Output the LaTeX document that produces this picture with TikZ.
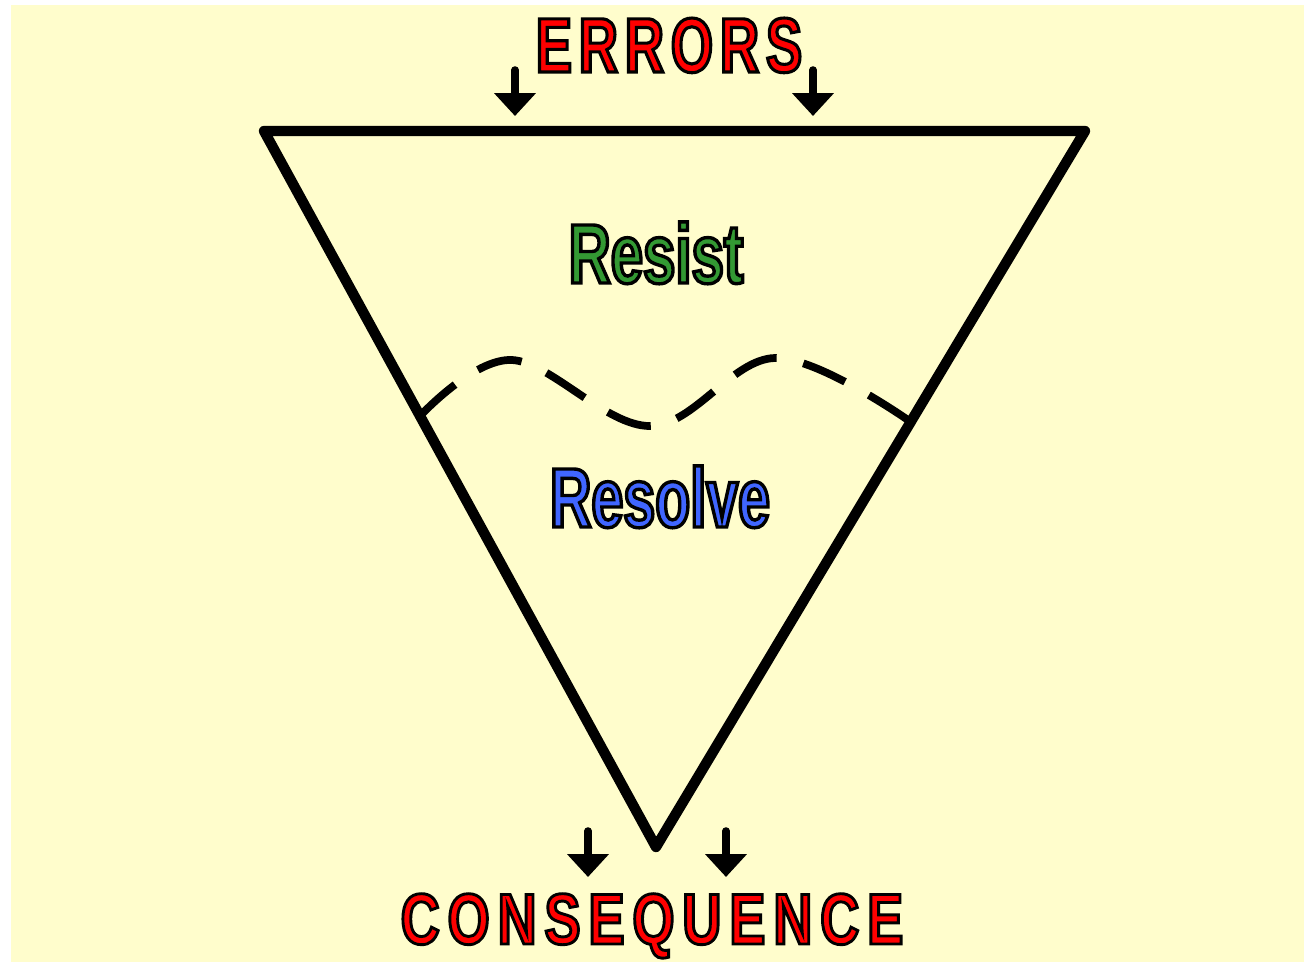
\documentclass[tikz,border=0pt]{standalone}
\usepackage{fontspec}
\setmainfont{Liberation Sans}
\newfontfamily\errfont{Liberation Sans Bold}[FakeStretch=0.70,LetterSpace=9,FakeBold=4]
\newfontfamily\consfont{Liberation Sans Bold}[FakeStretch=0.75,LetterSpace=11,FakeBold=4]
\newfontfamily\resistfont{Liberation Sans Bold}[FakeStretch=0.69,FakeBold=4]
\newfontfamily\resolvefont{Liberation Sans Bold}[FakeStretch=0.68,FakeBold=4]
\usepackage{tkz-euclide}
\usetikzlibrary{arrows.meta}
\definecolor{bgyellow}{RGB}{255,253,204}
% fill colour first, black outline second
\newcommand{\outlined}[2]{\special{pdf:bcolor [#1] [0 0 0]}#2\special{pdf:ecolor}}

\begin{document}
\begin{tikzpicture}
    % Define points
    \tkzDefPoint(5.28,-2.62){TL}
    \tkzDefPoint(21.70,-2.62){TR}
    \tkzDefPoint(13.12,-16.94){BT}
    \tkzDefPoint(8.42,-8.30){W1}
    \tkzDefPoint(10.24,-7.20){W2}
    \tkzDefPoint(13.00,-8.52){W3}
    \tkzDefPoint(15.50,-7.16){W4}
    \tkzDefPoint(18.16,-8.40){W5}
    \tkzDefPoint(10.30,-1.40){P1}
    \tkzDefPoint(10.30,-2.32){Q1}
    \tkzDefPoint(16.26,-1.40){P2}
    \tkzDefPoint(16.26,-2.32){Q2}
    \tkzDefPoint(11.76,-16.62){P3}
    \tkzDefPoint(11.76,-17.54){Q3}
    \tkzDefPoint(14.52,-16.62){P4}
    \tkzDefPoint(14.52,-17.54){Q4}

    % Styling
    \tikzset{
        c_tri/.style={color=black, line width=5.9pt},
        c_wave/.style={color=black, line width=4.4pt, dash pattern=on 26pt off 15.5pt},
        c_arrow/.style={color=black, line width=4.3pt,
            -{Triangle[width=23pt,length=13pt]}},
        c_word/.style={inner sep=0pt, anchor=base}
    }

    % Background
    \useasboundingbox (0,0) rectangle (26.08,-19.24);
    \fill[bgyellow] (0.22,-0.10) rectangle (26.08,-19.24);

    % Draw triangle
    \tkzDrawPolygon[c_tri](TL,TR,BT)

    % Draw wave line
    \draw[c_wave] plot[smooth, tension=0.6] coordinates {(W1) (W2) (W3) (W4) (W5)};

    % Draw arrows
    \tkzDrawSegments[c_arrow](P1,Q1 P2,Q2 P3,Q3 P4,Q4)

    % Labels
    \node[c_word] (errors) at (13.38,-1.44)
        {\errfont\fontsize{44}{44}\selectfont\outlined{1 0 0}{ERRORS}};
    \node[c_word] (consequence) at (13.04,-18.88)
        {\consfont\fontsize{41}{41}\selectfont\outlined{1 0 0}{CONSEQUENCE}};
    \node[c_word] (resist) at (13.12,-5.66)
        {\resistfont\fontsize{48}{48}\selectfont\outlined{0.2 0.6 0.2}{Resist}};
    \node[c_word] (resolve) at (13.20,-10.54)
        {\resolvefont\fontsize{48}{48}\selectfont\outlined{0.25 0.4 1}{Resolve}};
\end{tikzpicture}
\end{document}
